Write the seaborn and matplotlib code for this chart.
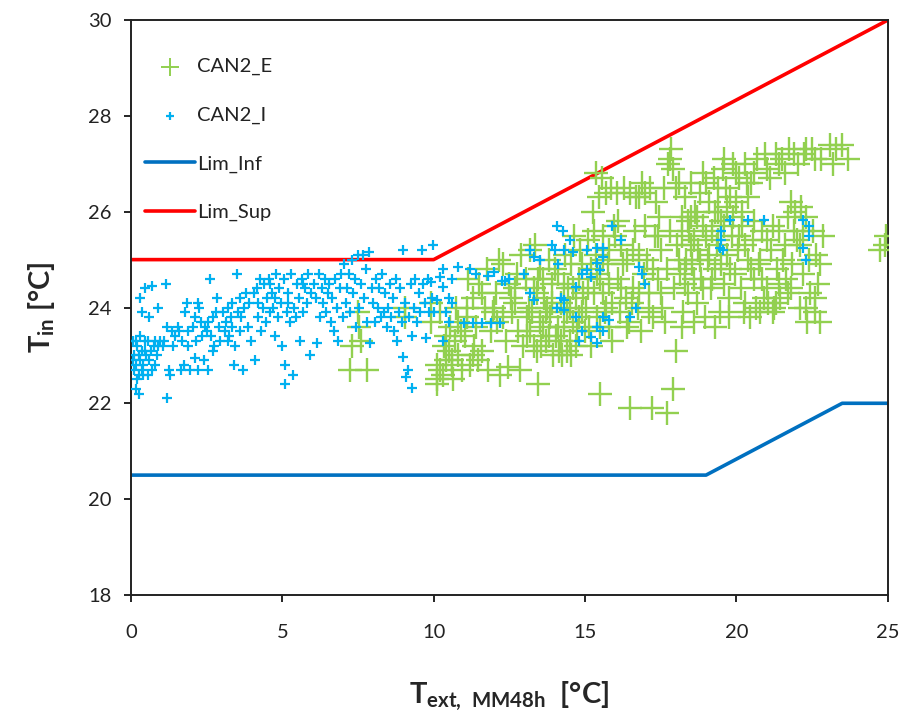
import numpy as np
import pandas as pd
import matplotlib
matplotlib.use("Agg")
import matplotlib.pyplot as plt
import seaborn as sns

# Indoor temperature (CAN2_I series) vs. 48h running mean outdoor temperature
can2_i_x = [
    0.05, 0.1, 0.15, 0.2, 0.25, 0.3, 0.35, 0.1, 0.2, 0.4, 0.45, 0.3, 0.05, 0.15, 0.25, 0.3, 0.35, 0.45, 0.4, 0.5, 0.35, 0.25, 0.15, 0.45,
    0.55, 0.6, 0.65, 0.7, 0.75, 0.8, 0.85, 0.9, 0.6, 0.7, 0.9, 0.55, 0.95, 0.8,
    1.05, 1.15, 1.1, 1.2, 1.25, 1.3, 1.35, 1.45, 1.2, 1.4,
    1.55, 1.6, 1.7, 1.75, 1.85, 1.8, 1.9, 1.95, 1.65, 1.9,
    2.05, 2.1, 2.15, 2.2, 2.25, 2.3, 2.35, 2.4, 2.45, 2.5, 2.1, 2.2,
    2.55, 2.6, 2.65, 2.7, 2.75, 2.8, 2.85, 2.9, 2.95, 2.55, 2.7,
    3.05, 3.1, 3.15, 3.2, 3.25, 3.3, 3.35, 3.4, 3.45, 3.5, 3.2, 3.35,
    3.55, 3.6, 3.65, 3.7, 3.75, 3.8, 3.85, 3.9, 3.95, 3.6,
    4.05, 4.1, 4.15, 4.2, 4.25, 4.3, 4.35, 4.4, 4.45, 4.5, 4.2,
    4.55, 4.6, 4.65, 4.7, 4.75, 4.8, 4.85, 4.9, 4.95, 5.0, 4.6, 4.75,
    5.05, 5.1, 5.1, 5.15, 5.2, 5.25, 5.3, 5.35, 5.4, 5.45, 5.5, 5.2,
    5.55, 5.6, 5.65, 5.7, 5.75, 5.8, 5.85, 5.9, 5.95, 5.7,
    6.05, 6.1, 6.15, 6.2, 6.25, 6.3, 6.35, 6.4, 6.45, 6.5,
    6.55, 6.6, 6.65, 6.7, 6.75, 6.8, 6.85, 6.9, 6.95, 7.0,
    7.05, 7.1, 7.15, 7.2, 7.25, 7.3, 7.35, 7.4, 7.45, 7.5,
    7.55, 7.6, 7.65, 7.7, 7.75, 7.8, 7.85, 7.9, 7.95, 8.0,
    8.05, 8.1, 8.15, 8.2, 8.25, 8.3, 8.35, 8.4, 8.45, 8.5,
    8.55, 8.6, 8.65, 8.7, 8.75, 8.8, 8.85, 8.9, 8.95, 9.0, 9.0,
    9.05, 9.1, 9.15, 9.2, 9.25, 9.3, 9.3, 9.35, 9.4, 9.45, 9.5,
    9.55, 9.6, 9.65, 9.7, 9.75, 9.8, 9.85, 9.9, 9.95, 9.97,
    10.2, 10.3, 10.5, 10.6, 10.1, 10.0, 10.4, 10.5, 10.3, 10.8, 11.4, 11.8, 12.25, 12.35,
    11.0, 11.3, 11.6, 11.9, 12.2,
    13.2, 13.3, 13.2, 13.3, 14.0, 14.3, 14.6, 14.07, 14.27,
    15.06, 15.4, 15.6, 15.9, 16.2,
    14.2, 14.3, 14.7, 14.9, 15.06, 15.2, 15.4, 15.6, 15.5,
    14.9, 15.2, 15.6, 15.4, 14.8, 14.7, 16.5, 16.7, 16.9, 16.8, 17.0,
    14.3, 14.07, 15.6, 15.8, 15.4,
    10.3, 10.6, 11.2, 12.0, 12.5, 13.0, 13.5, 13.9, 14.5, 14.1,
    19.8, 20.4, 20.9, 19.5, 19.5, 19.45, 19.55, 22.2, 22.4, 22.4, 22.2, 22.3,
]
can2_i_y = [
    23.3, 23.0, 22.8, 23.2, 22.6, 22.9, 23.1, 22.7, 22.5, 22.8, 23.3, 23.4, 22.9, 22.3, 22.2, 24.2, 23.9, 24.4, 22.6, 23.0, 22.7, 23.0, 23.3, 23.1,
    23.3, 22.9, 23.1, 22.7, 23.2, 23.3, 23.0, 23.2, 23.8, 24.45, 24.0, 22.6, 23.3, 22.8,
    23.2, 24.5, 23.3, 23.6, 22.7, 22.6, 23.5, 23.4, 22.1, 23.2,
    23.6, 23.5, 23.3, 22.8, 24.1, 23.9, 23.5, 22.7, 22.7, 23.2,
    23.6, 22.95, 23.3, 24.1, 24.0, 23.7, 23.4, 22.9, 23.6, 23.5, 23.8, 22.7,
    23.7, 24.6, 23.4, 23.8, 23.2, 23.9, 24.2, 23.6, 23.3, 22.7, 23.1,
    23.9, 23.5, 23.7, 24.0, 23.4, 23.8, 23.6, 22.8, 23.2, 24.7, 23.3, 24.1,
    23.9, 23.5, 23.8, 22.7, 24.0, 24.3, 23.6, 24.1, 23.3, 24.2,
    24.3, 22.9, 24.4, 23.8, 24.6, 23.5, 24.0, 24.5, 23.7, 24.2, 24.1,
    24.6, 23.9, 24.3, 24.0, 23.4, 24.7, 23.8, 24.4, 24.1, 23.2, 24.5, 24.2,
    24.6, 22.8, 22.4, 23.9, 24.3, 23.7, 24.7, 22.6, 24.0, 23.8, 24.5, 24.1,
    24.2, 23.3, 24.6, 23.9, 24.4, 24.1, 24.7, 23.0, 24.3, 24.5,
    24.5, 24.2, 23.26, 24.7, 23.8, 24.4, 24.1, 24.6, 23.9, 24.3,
    24.5, 23.7, 24.2, 23.5, 24.6, 24.0, 23.3, 24.4, 24.7, 23.8,
    24.9, 24.1, 24.4, 24.7, 23.9, 25.0, 24.3, 24.6, 23.6, 25.1,
    24.0, 24.5, 25.1, 24.2, 24.8, 23.7, 25.15, 23.26, 24.4, 24.1,
    23.7, 24.6, 24.0, 24.4, 23.8, 24.7, 23.9, 24.3, 23.6, 24.0,
    24.5, 23.8, 24.2, 23.5, 24.6, 23.3, 23.9, 24.4, 23.7, 22.97, 25.2,
    24.1, 22.55, 22.7, 23.8, 24.5, 22.32, 23.4, 24.0, 24.6, 23.7, 24.3,
    23.9, 25.2, 24.5, 24.1, 23.37, 24.6, 23.9, 24.53, 24.2, 25.3,
    24.64, 24.43, 24.2, 24.1, 24.16, 23.9, 23.9, 23.7, 23.3, 24.85, 24.7, 24.65, 24.55, 24.55,
    23.68, 23.68, 23.68, 23.68, 23.68,
    24.3, 24.16, 25.2, 25.05, 25.2, 25.2, 25.15, 25.7, 25.6,
    25.2, 25.24, 25.24, 25.7, 25.4,
    24.2, 24.16, 24.43, 24.7, 24.78, 24.64, 24.93, 25.05, 24.78,
    23.5, 23.38, 23.5, 23.26, 23.3, 23.8, 23.8, 24.0, 24.7, 24.85, 24.5,
    23.95, 24.0, 23.8, 23.74, 23.6,
    24.8, 24.6, 24.8, 24.75, 24.6, 24.7, 25.0, 25.3, 25.4, 24.9,
    25.83, 25.83, 25.83, 25.6, 25.4, 25.25, 25.2, 25.83, 25.7, 25.5, 25.24, 25.0,
]

# Indoor temperature (CAN2_E series)
can2_e_x = [
    7.3, 7.5, 7.55, 7.6, 7.25, 7.8, 9.05, 9.05, 9.9, 9.9, 10.1, 10.1,
    10.1, 10.2, 10.3, 10.4, 10.5, 10.6, 10.7, 10.8, 10.9, 10.35, 10.55, 10.75, 10.95, 10.2, 10.65,
    11.05, 11.1, 11.2, 11.3, 11.4, 11.5, 11.6, 11.7, 11.8, 11.9, 11.15, 11.45, 11.75, 11.95, 11.35,
    12.05, 12.1, 12.2, 12.3, 12.4, 12.5, 12.6, 12.7, 12.8, 12.9, 12.15, 12.45, 12.75, 12.95, 12.85, 12.55,
    13.05, 13.1, 13.2, 13.25, 13.3, 13.4, 13.45, 13.5, 13.6, 13.65, 13.7, 13.8, 13.85, 13.9, 13.95, 13.15, 13.55, 13.75, 13.35, 13.45,
    14.05, 14.1, 14.15, 14.2, 14.3, 14.35, 14.4, 14.45, 14.5, 14.55, 14.6, 14.65, 14.7, 14.75, 14.8, 14.85, 14.9, 14.95, 14.25, 14.55,
    15.05, 15.1, 15.15, 15.2, 15.25, 15.3, 15.35, 15.4, 15.45, 15.5, 15.5, 15.55, 15.6, 15.65, 15.7, 15.75, 15.8, 15.85, 15.9, 15.95, 15.6, 15.8, 15.35,
    16.05, 16.1, 16.15, 16.2, 16.3, 16.35, 16.4, 16.45, 16.5, 16.5, 16.6, 16.65, 16.7, 16.75, 16.8, 16.9, 16.95, 16.2, 16.55, 16.85,
    17.05, 17.1, 17.15, 17.2, 17.25, 17.3, 17.35, 17.4, 17.5, 17.55, 17.6, 17.7, 17.7, 17.75, 17.8, 17.85, 17.9, 17.9, 17.95, 18.0, 17.8, 17.65, 17.45,
    18.05, 18.1, 18.15, 18.2, 18.25, 18.3, 18.35, 18.4, 18.45, 18.5, 18.55, 18.6, 18.65, 18.7, 18.75, 18.8, 18.85, 18.9, 18.95, 18.3, 18.6, 18.9, 18.5, 18.2,
    19.05, 19.1, 19.15, 19.2, 19.25, 19.3, 19.35, 19.4, 19.45, 19.5, 19.55, 19.6, 19.65, 19.7, 19.75, 19.8, 19.85, 19.9, 19.95, 19.3, 19.6, 19.75,
    20.05, 20.1, 20.15, 20.2, 20.3, 20.35, 20.4, 20.45, 20.5, 20.55, 20.6, 20.7, 20.75, 20.8, 20.85, 20.9, 20.95, 20.25, 20.65, 20.85,
    21.05, 21.1, 21.15, 21.2, 21.3, 21.35, 21.4, 21.45, 21.5, 21.55, 21.6, 21.65, 21.7, 21.75, 21.8, 21.85, 21.9, 21.95, 21.25, 21.7,
    22.05, 22.1, 22.15, 22.2, 22.25, 22.3, 22.4, 22.45, 22.5, 22.55, 22.6, 22.65, 22.7, 22.75, 22.8, 22.75, 22.6, 22.35, 22.85, 22.1,
    23.1, 23.3, 23.5, 23.7, 23.2,
    24.75, 24.95, 24.9,
    13.1, 13.2, 13.3, 13.4, 13.5, 13.6, 13.7, 13.8, 13.9, 14.0, 14.1, 14.2, 14.3, 14.4, 14.5,
    14.6, 14.7, 14.8, 14.9, 15.0, 15.1, 15.2, 15.3, 15.4, 15.5, 15.6, 15.7, 15.8, 15.9, 16.0,
    16.1, 16.25, 16.4, 16.6, 16.8, 17.0, 17.1, 17.25, 17.4, 17.5,
    18.1, 18.2, 18.3, 18.4, 18.5, 18.6, 18.7, 18.8, 18.9, 19.0, 19.1, 19.2, 19.3, 19.4, 19.5,
    19.6, 19.7, 19.8, 19.9, 20.0, 20.1, 20.2, 20.3, 20.4, 20.5,
    20.6, 20.8, 21.0, 21.2, 21.4, 21.6, 21.8, 22.0, 22.2, 22.3, 21.0, 21.3,
    19.0, 19.4, 20.0, 20.3, 20.6, 21.0, 21.4, 21.9, 22.3, 22.6, 18.0, 17.0, 16.8,
    10.4, 10.8, 11.1, 11.6, 12.0, 12.3, 12.7, 11.3, 10.6,
]
can2_e_y = [
    23.2, 23.9, 23.6, 23.3, 22.7, 22.7, 23.8, 24.0, 23.7, 24.1, 22.4, 22.8,
    22.5, 22.7, 22.6, 22.9, 23.1, 22.8, 23.3, 23.0, 23.5, 23.2, 23.6, 24.0, 22.7, 23.9, 22.5,
    23.4, 23.8, 22.8, 24.2, 23.6, 24.5, 23.1, 24.0, 22.7, 23.5, 24.6, 22.9, 24.8, 23.9, 23.2,
    24.3, 23.7, 22.6, 24.9, 23.3, 24.5, 23.9, 24.1, 23.5, 25.1, 25.0, 22.75, 24.7, 23.2, 22.7, 24.2,
    24.6, 23.4, 25.2, 23.9, 24.4, 23.1, 22.4, 24.8, 23.6, 24.2, 23.3, 25.0, 23.8, 24.5, 23.0, 24.0, 23.2, 24.0, 25.3, 24.6,
    23.4, 24.7, 23.1, 24.1, 23.6, 25.1, 23.9, 24.4, 23.3, 24.9, 23.7, 25.5, 24.2, 23.5, 24.6, 25.2, 23.9, 24.3, 23.0, 23.0,
    24.0, 25.4, 23.6, 24.8, 26.0, 24.3, 25.1, 23.8, 26.3, 22.2, 24.6, 26.7, 25.5, 23.9, 26.4, 24.9, 25.2, 26.5, 24.1, 25.7, 24.3, 23.6, 26.8,
    26.4, 24.6, 23.9, 25.3, 26.5, 24.2, 25.0, 23.7, 21.9, 26.4, 24.4, 25.6, 26.3, 24.0, 25.1, 26.6, 24.7, 24.4, 24.1, 23.5,
    25.0, 24.3, 26.5, 21.9, 23.8, 25.5, 26.2, 24.6, 25.2, 24.0, 26.5, 21.8, 24.8, 27.0, 25.6, 27.3, 22.3, 26.9, 24.4, 23.1, 27.1, 23.7, 25.9,
    25.3, 26.6, 24.7, 25.9, 23.9, 26.3, 25.0, 24.3, 25.6, 26.6, 24.9, 25.4, 26.0, 24.1, 25.2, 26.4, 24.6, 25.7, 23.8, 24.5, 23.7, 26.8, 25.9, 23.6,
    25.0, 26.2, 24.4, 25.6, 26.7, 24.8, 25.3, 26.0, 23.9, 25.8, 26.9, 24.5, 26.5, 25.1, 24.2, 26.3, 25.5, 27.0, 24.7, 23.6, 27.1, 23.8,
    25.2, 26.7, 24.4, 25.7, 24.1, 26.6, 25.0, 23.8, 26.6, 25.4, 24.6, 27.1, 24.9, 23.9, 25.6, 24.2, 27.2, 23.9, 24.0, 24.6,
    24.1, 26.7, 25.2, 23.9, 27.2, 24.8, 25.6, 24.2, 27.1, 25.0, 26.8, 24.6, 25.9, 27.3, 26.2, 24.9, 25.6, 26.0, 24.0, 24.3,
    27.0, 25.3, 26.1, 24.7, 27.2, 25.9, 25.0, 24.3, 27.3, 25.6, 23.9, 25.1, 24.5, 23.7, 27.1, 24.9, 24.2, 23.7, 25.5, 24.0,
    27.4, 27.3, 27.4, 27.1, 27.0,
    25.2, 25.5, 25.3,
    23.8, 23.5, 23.2, 24.3, 23.7, 24.6, 23.9, 23.4, 24.1, 24.8, 23.6, 23.3, 24.5, 23.1, 24.0,
    24.4, 23.2, 23.8, 24.9, 23.5, 24.4, 23.2, 25.6, 24.7, 23.6, 25.0, 24.0, 24.5, 23.3, 25.5,
    25.8, 24.9, 23.6, 25.2, 24.3, 25.7, 23.9, 24.8, 25.5, 24.3,
    25.0, 25.5, 24.8, 25.8, 25.3, 24.6, 25.9, 25.0, 24.4, 25.5, 25.1, 24.6, 26.0, 25.4, 24.9,
    25.7, 26.1, 24.8, 25.9, 26.2, 25.5, 26.0, 25.3, 26.3, 24.8,
    25.8, 25.0, 25.4, 25.7, 24.5, 25.3, 24.4, 25.4, 25.6, 24.0, 24.4, 24.1,
    26.6, 26.5, 26.8, 27.0, 26.8, 26.9, 27.0, 27.2, 27.3, 27.1, 26.5, 26.4, 26.3,
    23.4, 23.7, 24.0, 24.3, 24.0, 23.8, 24.4, 23.0, 22.9,
]

# Comfort band limits
lim_inf_x = [0, 19, 23.5, 25]
lim_inf_y = [20.5, 20.5, 22.0, 22.0]
lim_sup_x = [0, 10, 25]
lim_sup_y = [25.0, 25.0, 30.0]

sns.set_theme(style="ticks")
plt.rcParams["font.family"] = ["Lato", "DejaVu Sans"]
plt.rcParams["mathtext.fontset"] = "custom"
plt.rcParams["mathtext.rm"] = "Lato"
plt.rcParams["mathtext.bf"] = "Lato:bold"

fig = plt.figure(figsize=(9.16, 7.21), dpi=100)
ax = fig.add_axes([0.143, 0.175, 0.826, 0.797])

df_e = pd.DataFrame({"x": can2_e_x, "y": can2_e_y})
df_i = pd.DataFrame({"x": can2_i_x, "y": can2_i_y})

sns.scatterplot(data=df_e, x="x", y="y", marker="+", s=280, color="#92D050",
                linewidth=1.7, ax=ax, label="CAN2_E", zorder=3)
sns.scatterplot(data=df_i, x="x", y="y", marker="+", s=50, color="#00B0F0",
                linewidth=1.6, ax=ax, label="CAN2_I", zorder=4)
sns.lineplot(x=lim_inf_x, y=lim_inf_y, color="#0070C0", linewidth=2.6, ax=ax,
             label="Lim_Inf", zorder=2)
sns.lineplot(x=lim_sup_x, y=lim_sup_y, color="#FF0000", linewidth=2.6, ax=ax,
             label="Lim_Sup", zorder=2)

ax.set_xlim(0, 25)
ax.set_ylim(18, 30)
ax.set_xticks([0, 5, 10, 15, 20, 25])
ax.set_yticks([18, 20, 22, 24, 26, 28, 30])
ax.tick_params(axis="both", labelsize=14.5, length=5, width=1.2, color="black",
               labelcolor="#222222")
ax.tick_params(axis="x", pad=16)
ax.tick_params(axis="y", pad=9)
for sp in ax.spines.values():
    sp.set_color("#222222")
    sp.set_linewidth(1.4)

ax.set_xlabel(r"$\mathbf{T_{ext,\ MM48h}}$  [°C]", fontsize=21, fontweight="bold",
              labelpad=28)
ax.set_ylabel(r"$\mathbf{T_{in}}$ [°C]", fontsize=21, fontweight="bold", labelpad=22)

leg = ax.legend(loc="upper left", frameon=False, fontsize=14.5, labelspacing=1.55,
                handlelength=2.5, handletextpad=0.1, borderaxespad=0.0,
                bbox_to_anchor=(0.008, 0.948))
handles = leg.legend_handles
handles[0].set_sizes([170])
handles[0].set_linewidths([1.4])
handles[1].set_sizes([40])
for t in leg.get_texts():
    t.set_color("#222222")

fig.savefig("out.png", dpi=100)
